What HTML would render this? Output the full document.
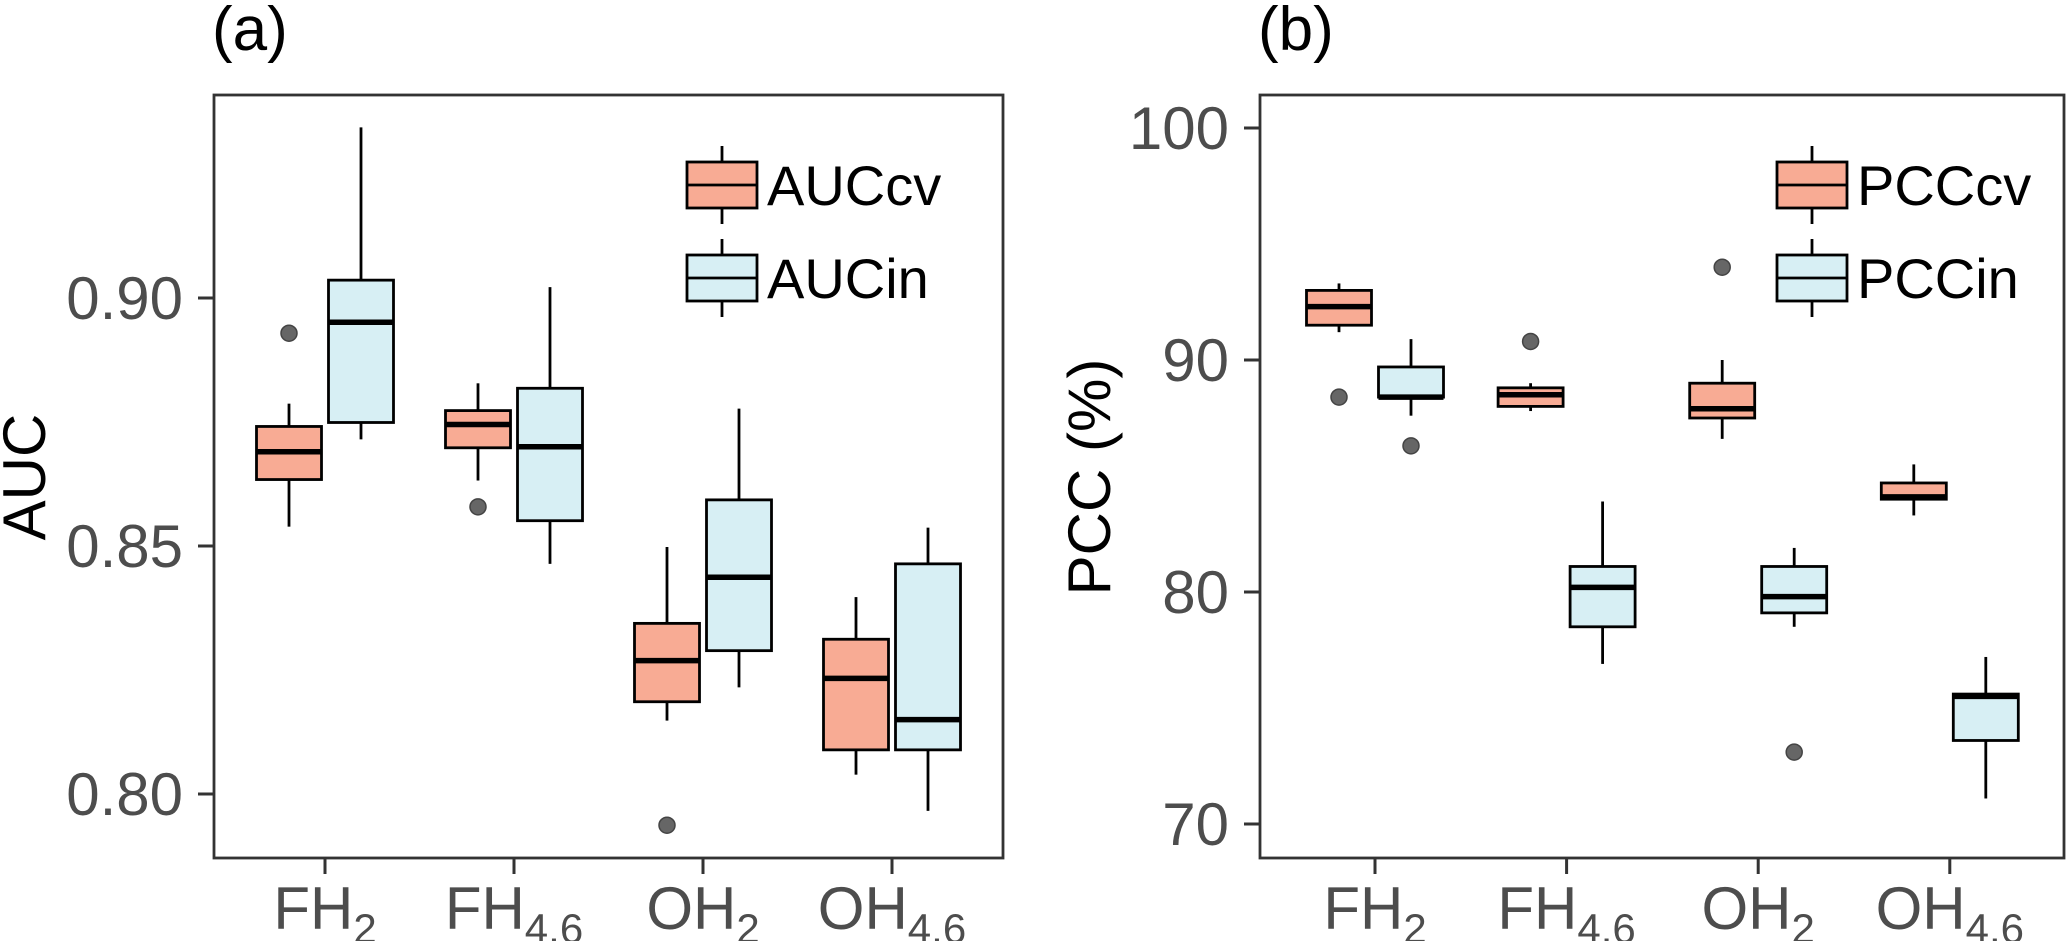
<!DOCTYPE html>
<html><head><meta charset="utf-8"><style>
html,body{margin:0;padding:0;background:#fff;}
svg{display:block;font-family:"Liberation Sans",Arial,sans-serif;}
</style></head><body>
<svg id="chart" width="2067" height="941" viewBox="0 0 2067 941" xmlns="http://www.w3.org/2000/svg"></svg>
<script>
const categories = ["FH", "FH", "OH", "OH"];
const categorySubs = ["2", "4.6", "2", "4.6"];
// panel a AUC: [low, q1, median, q3, high]
const aucCv = [[0.8539,0.8634,0.8690,0.8741,0.8787],[0.8632,0.8698,0.8745,0.8773,0.8828],[0.8148,0.8186,0.8269,0.8344,0.8498],[0.8039,0.8089,0.8233,0.8312,0.8397]];
const aucIn = [[0.8715,0.8749,0.8951,0.9036,0.9344],[0.8464,0.8551,0.8700,0.8818,0.9022],[0.8215,0.8289,0.8437,0.8593,0.8777],[0.7966,0.8089,0.8150,0.8464,0.8537]];
const aucCvOut = [[0.8929],[0.8579],[0.7937],[]];
const aucInOut = [[],[],[],[]];
const aucTicks = [0.80, 0.85, 0.90];
// panel b PCC
const pccCv = [[91.2,91.5,92.3,93.0,93.3],[87.8,88.0,88.5,88.8,89.0],[86.6,87.5,87.9,89.0,90.0],[83.3,84.0,84.1,84.7,85.5]];
const pccIn = [[87.6,88.4,88.4,89.7,90.9],[76.9,78.5,80.2,81.1,83.9],[78.5,79.1,79.8,81.1,81.9],[71.1,73.6,75.5,75.6,77.2]];
const pccCvOut = [[88.4],[90.8],[94.0],[]];
const pccInOut = [[86.3],[],[73.1],[]];
const pccTicks = [70, 80, 90, 100];

const NS = "http://www.w3.org/2000/svg";
const svg = document.getElementById("chart");
function mk(tag, attrs, parent){const e=document.createElementNS(NS,tag);for(const k in attrs)e.setAttribute(k,attrs[k]);(parent||svg).appendChild(e);return e;}

const CV_FILL = "#F8AB94", IN_FILL = "#D7EFF4";

function panel(cfg){
  const g = mk("g", {});
  
  
  const y = v => cfg.y0 + (v - cfg.v0) * cfg.ppu;
  const x = i => cfg.xStart + i * cfg.xStep;
  const fr = mk("rect", {x:cfg.left, y:95, width:cfg.right-cfg.left, height:763, fill:"none", stroke:"#333", "stroke-width":2.8}, g);
  
  
  cfg.ticks.forEach(t=>{
    const yy = y(t);
    const tl = mk("line", {x1:cfg.left-16, x2:cfg.left, y1:yy, y2:yy, stroke:"#333", "stroke-width":3}, g);
    
    
    const tx = mk("text", {x:cfg.left-31, y:yy+21, "text-anchor":"end", "font-size":60, fill:"#4d4d4d"}, g);
    tx.textContent = cfg.fmt(t);
    
    
  });
  categories.forEach((c,i)=>{
    const xx = x(i);
    const tl = mk("line", {x1:xx, x2:xx, y1:858, y2:874, stroke:"#333", "stroke-width":3}, g);
    
    
    const tx = mk("text", {x:xx, y:929, "text-anchor":"middle", "font-size":60, fill:"#4d4d4d"}, g);
    
    
    const t1 = mk("tspan", {}, tx); t1.textContent = c;
    const t2 = mk("tspan", {"font-size":42, dy:14}, tx); t2.textContent = categorySubs[i];
  });
  function box(cx, d, fill, outs, name){
    const bg = mk("g", {}, g);
    
    
    const hw = 32.5;
    mk("line", {x1:cx, x2:cx, y1:y(d[4]), y2:y(d[3]), stroke:"#000", "stroke-width":2.8}, bg);
    mk("line", {x1:cx, x2:cx, y1:y(d[1]), y2:y(d[0]), stroke:"#000", "stroke-width":2.8}, bg);
    mk("rect", {x:cx-hw, y:y(d[3]), width:2*hw, height:Math.max(1,y(d[1])-y(d[3])), fill:fill, stroke:"#000", "stroke-width":2.8}, bg);
    mk("line", {x1:cx-hw, x2:cx+hw, y1:y(d[2]), y2:y(d[2]), stroke:"#000", "stroke-width":5.5}, bg);
    outs.forEach(o=>{
      const c = mk("circle", {cx:cx, cy:y(o), r:8, fill:"#666", stroke:"#444", "stroke-width":1.5}, bg);
      
      
    });
  }
  categories.forEach((c,i)=>{
    box(x(i)-36, cfg.cv[i], CV_FILL, cfg.cvOut[i], cfg.cvName+"-box-"+i);
    box(x(i)+36, cfg.inn[i], IN_FILL, cfg.inOut[i], cfg.inName+"-box-"+i);
  });
  const lg = mk("g", {}, g);
  
  
  [[cfg.cvName, CV_FILL, 162],[cfg.inName, IN_FILL, 255]].forEach(([lab, fill, top])=>{
    const lx = cfg.legX, cx = lx+35, bot = top+46;
    const e = mk("g", {}, lg);
    
    
    mk("line", {x1:cx, x2:cx, y1:top-16, y2:bot+16, stroke:"#000", "stroke-width":2.8}, e);
    mk("rect", {x:lx, y:top, width:70, height:46, fill:fill, stroke:"#000", "stroke-width":2.8}, e);
    mk("line", {x1:lx, x2:lx+70, y1:top+23, y2:top+23, stroke:"#000", "stroke-width":2.8}, e);
    const t = mk("text", {x:lx+80, y:top+43, "font-size":56, fill:"#000"}, e);
    t.textContent = lab;
  });
  const pl = mk("text", {x:cfg.left-2, y:50, "font-size":62, fill:"#000"}, g);
  pl.textContent = cfg.label;
  
  
  const yt = mk("text", {x:cfg.titleX, y:477, "font-size":60, fill:"#000", "text-anchor":"middle", transform:`rotate(-90 ${cfg.titleX} 477)`}, g);
  yt.textContent = cfg.title;
  
  
}

panel({name:"panel-a-auc", left:214, right:1003, y0:298, v0:0.90, ppu:-4960, ticks:aucTicks, fmt:v=>v.toFixed(2),
  xStart:325, xStep:189, cv:aucCv, inn:aucIn, cvOut:aucCvOut, inOut:aucInOut, cvName:"AUCcv", inName:"AUCin",
  legX:687, label:"(a)", title:"AUC", titleX:45});
panel({name:"panel-b-pcc", left:1260, right:2064, y0:360, v0:90, ppu:-23.2, ticks:pccTicks, fmt:v=>String(v),
  xStart:1375, xStep:191.6, cv:pccCv, inn:pccIn, cvOut:pccCvOut, inOut:pccInOut, cvName:"PCCcv", inName:"PCCin",
  legX:1777, label:"(b)", title:"PCC (%)", titleX:1110});
</script>
</body></html>
